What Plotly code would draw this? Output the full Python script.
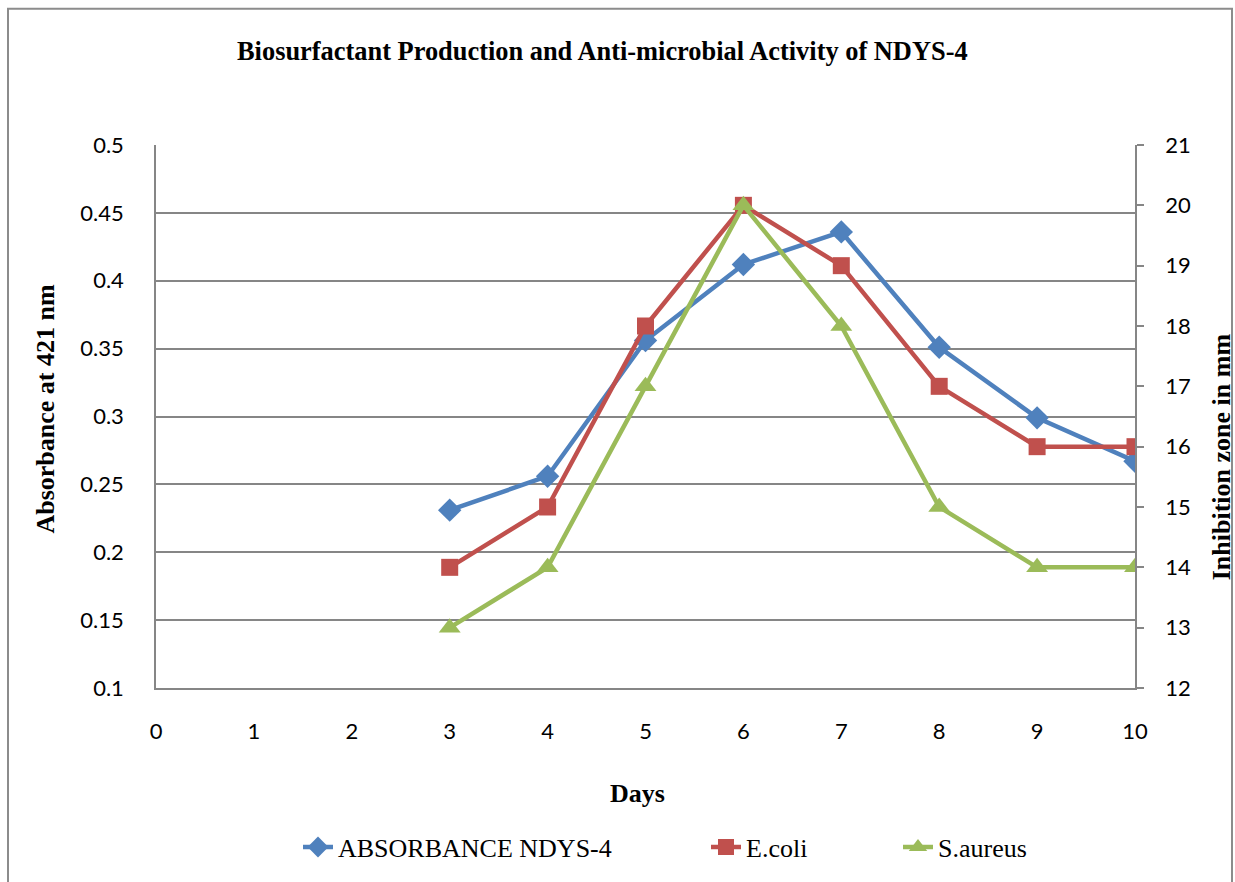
import plotly.graph_objects as go

days = [3, 4, 5, 6, 7, 8, 9, 10]
absorbance = [0.231, 0.256, 0.356, 0.412, 0.436, 0.351, 0.299, 0.267]
ecoli = [14, 15, 18, 20, 19, 17, 16, 16]
saureus = [13, 14, 17, 20, 18, 15, 14, 14]

x_ticks = list(range(0, 11))
y_left_ticks = [0.1, 0.15, 0.2, 0.25, 0.3, 0.35, 0.4, 0.45, 0.5]
y_right_ticks = list(range(12, 22))

W, H = 1235, 882
L, R, T, B = 156, 100, 145, 191
pw, ph = W - L - R, H - T - B

def px(x):
    return (x - L) / pw

def py(y):
    return (H - B - y) / ph

serif = "Liberation Serif, Times New Roman, serif"
sans = "Lato, Calibri, sans-serif"

fig = go.Figure()
fig.add_trace(go.Scatter(
    x=days, y=absorbance, name="ABSORBANCE NDYS-4", mode="lines+markers",
    line=dict(color="#4F81BD", width=4.5),
    marker=dict(symbol="diamond", size=18, color="#4F81BD"),
    legendwidth=363,
    yaxis="y"))
fig.add_trace(go.Scatter(
    x=days, y=ecoli, name="E.coli", mode="lines+markers",
    line=dict(color="#C0504D", width=4.5),
    marker=dict(symbol="square", size=17, color="#C0504D"),
    legendwidth=147,
    yaxis="y2"))
fig.add_trace(go.Scatter(
    x=days, y=saureus, name="S.aureus", mode="lines+markers",
    line=dict(color="#9BBB59", width=4.5),
    marker=dict(symbol="triangle-up", size=19, color="#9BBB59"),
    yaxis="y2"))

grid = "#868686"
fig.update_layout(
    width=W, height=H,
    margin=dict(l=L, r=R, t=T, b=B),
    paper_bgcolor="white", plot_bgcolor="white",
    showlegend=True,
    legend=dict(orientation="h", x=px(298), xanchor="left", y=py(851), yanchor="middle",
                font=dict(family=serif, size=26, color="black")),
    xaxis=dict(range=[0, 10], tickvals=x_ticks, showgrid=False, zeroline=False,
               showline=True, linecolor=grid, linewidth=1.5, ticks="",
               ticklabelstandoff=23,
               tickfont=dict(family=sans, size=22, color="black")),
    yaxis=dict(range=[0.1, 0.5], tickvals=y_left_ticks, ticktext=[f"{v:g}" for v in y_left_ticks],
               showgrid=True, gridcolor=grid, gridwidth=1.5, zeroline=False,
               showline=True, linecolor=grid, linewidth=1.5, ticks="",
               ticklabelstandoff=26,
               tickfont=dict(family=sans, size=22, color="black")),
    yaxis2=dict(range=[12, 21], tickvals=y_right_ticks, overlaying="y", side="right",
                showgrid=False, zeroline=False, showline=True, linecolor=grid, linewidth=1.5,
                ticks="outside", ticklen=7, tickcolor=grid, tickwidth=1.5,
                ticklabelstandoff=17,
                tickfont=dict(family=sans, size=22, color="black")),
    shapes=[dict(type="rect", xref="paper", yref="paper",
                 x0=px(8), x1=px(1232), y0=py(895), y1=py(8),
                 line=dict(color="#8C8C8C", width=2), fillcolor="rgba(0,0,0,0)", layer="below")],
    annotations=[
        dict(text="<b>Biosurfactant Production and Anti-microbial Activity of NDYS-4</b>",
             xref="paper", yref="paper", x=px(602), y=py(50), showarrow=False,
             xanchor="center", yanchor="middle", font=dict(family=serif, size=26.4, color="black")),
        dict(text="<b>Absorbance at 421 nm</b>", xref="paper", yref="paper",
             x=px(46), y=py(410), textangle=-90, showarrow=False,
             xanchor="center", yanchor="middle", font=dict(family=serif, size=26, color="black")),
        dict(text="<b>Inhibition zone in mm</b>", xref="paper", yref="paper",
             x=px(1221), y=py(459), textangle=-90, showarrow=False,
             xanchor="center", yanchor="middle", font=dict(family=serif, size=26, color="black")),
        dict(text="<b>Days</b>", xref="paper", yref="paper", x=px(637), y=py(797),
             showarrow=False, xanchor="center", yanchor="middle",
             font=dict(family=serif, size=26, color="black")),
    ],
)

fig.write_html("out.html", config={"displayModeBar": False},
               post_script="document.body.style.margin='0px';document.body.style.overflow='hidden';")
